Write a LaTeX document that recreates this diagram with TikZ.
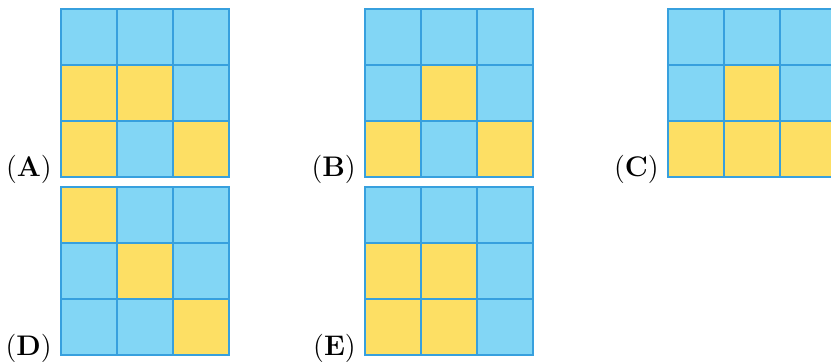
\documentclass[tikz,border=0pt]{standalone}
\usepackage{amsmath,amssymb}
\usepackage{tikz}
\usetikzlibrary{matrix, positioning}
\definecolor{skyblue}{RGB}{130,214,245}
\definecolor{sunyellow}{RGB}{253,223,100}
\definecolor{gridline}{RGB}{55,160,222}
\tikzset{
    cell/.style={rectangle, fill=skyblue, minimum size=1cm, inner sep=0pt, outer sep=0pt},
    marked/.style={fill=sunyellow},
    board/.style={matrix of nodes, nodes in empty cells, nodes={cell}, column sep=0pt, row sep=0pt, inner sep=0pt, outer sep=0pt, anchor=north west},
    edge/.style={draw=gridline, line width=0.7pt},
    tag/.style={anchor=base east, font=\Large, inner sep=0pt}
}

\begin{document}
\begin{tikzpicture}
    \useasboundingbox (0,0) rectangle (14.84,-6.45);

    \matrix (gridA) [board] at (1.09,-0.16) {
        & & \\
        |[marked]| & |[marked]| & \\
        |[marked]| & & |[marked]| \\
    };
    \matrix (gridB) [board] at (6.52,-0.16) {
        & & \\
        & |[marked]| & \\
        |[marked]| & & |[marked]| \\
    };
    \matrix (gridC) [board] at (11.93,-0.16) {
        & & \\
        & |[marked]| & \\
        |[marked]| & |[marked]| & |[marked]| \\
    };
    \matrix (gridD) [board] at (1.09,-3.34) {
        |[marked]| & & \\
        & |[marked]| & \\
        & & |[marked]| \\
    };
    \matrix (gridE) [board] at (6.52,-3.34) {
        & & \\
        |[marked]| & |[marked]| & \\
        |[marked]| & |[marked]| & \\
    };

    % cell borders on top of the fills
    \foreach \g in {A,B,C,D,E}
        \foreach \r in {1,2,3}
            \foreach \c in {1,2,3}
                \draw [edge] (grid\g-\r-\c.north west) rectangle (grid\g-\r-\c.south east);

    \node (labA) [tag] at ([xshift=-0.16cm]gridA.south west) {$(\mathbf{A})$};
    \node (labB) [tag] at ([xshift=-0.16cm]gridB.south west) {$(\mathbf{B})$};
    \node (labC) [tag] at ([xshift=-0.16cm]gridC.south west) {$(\mathbf{C})$};
    \node (labD) [tag] at ([xshift=-0.16cm]gridD.south west) {$(\mathbf{D})$};
    \node (labE) [tag] at ([xshift=-0.16cm]gridE.south west) {$(\mathbf{E})$};
\end{tikzpicture}
\end{document}
